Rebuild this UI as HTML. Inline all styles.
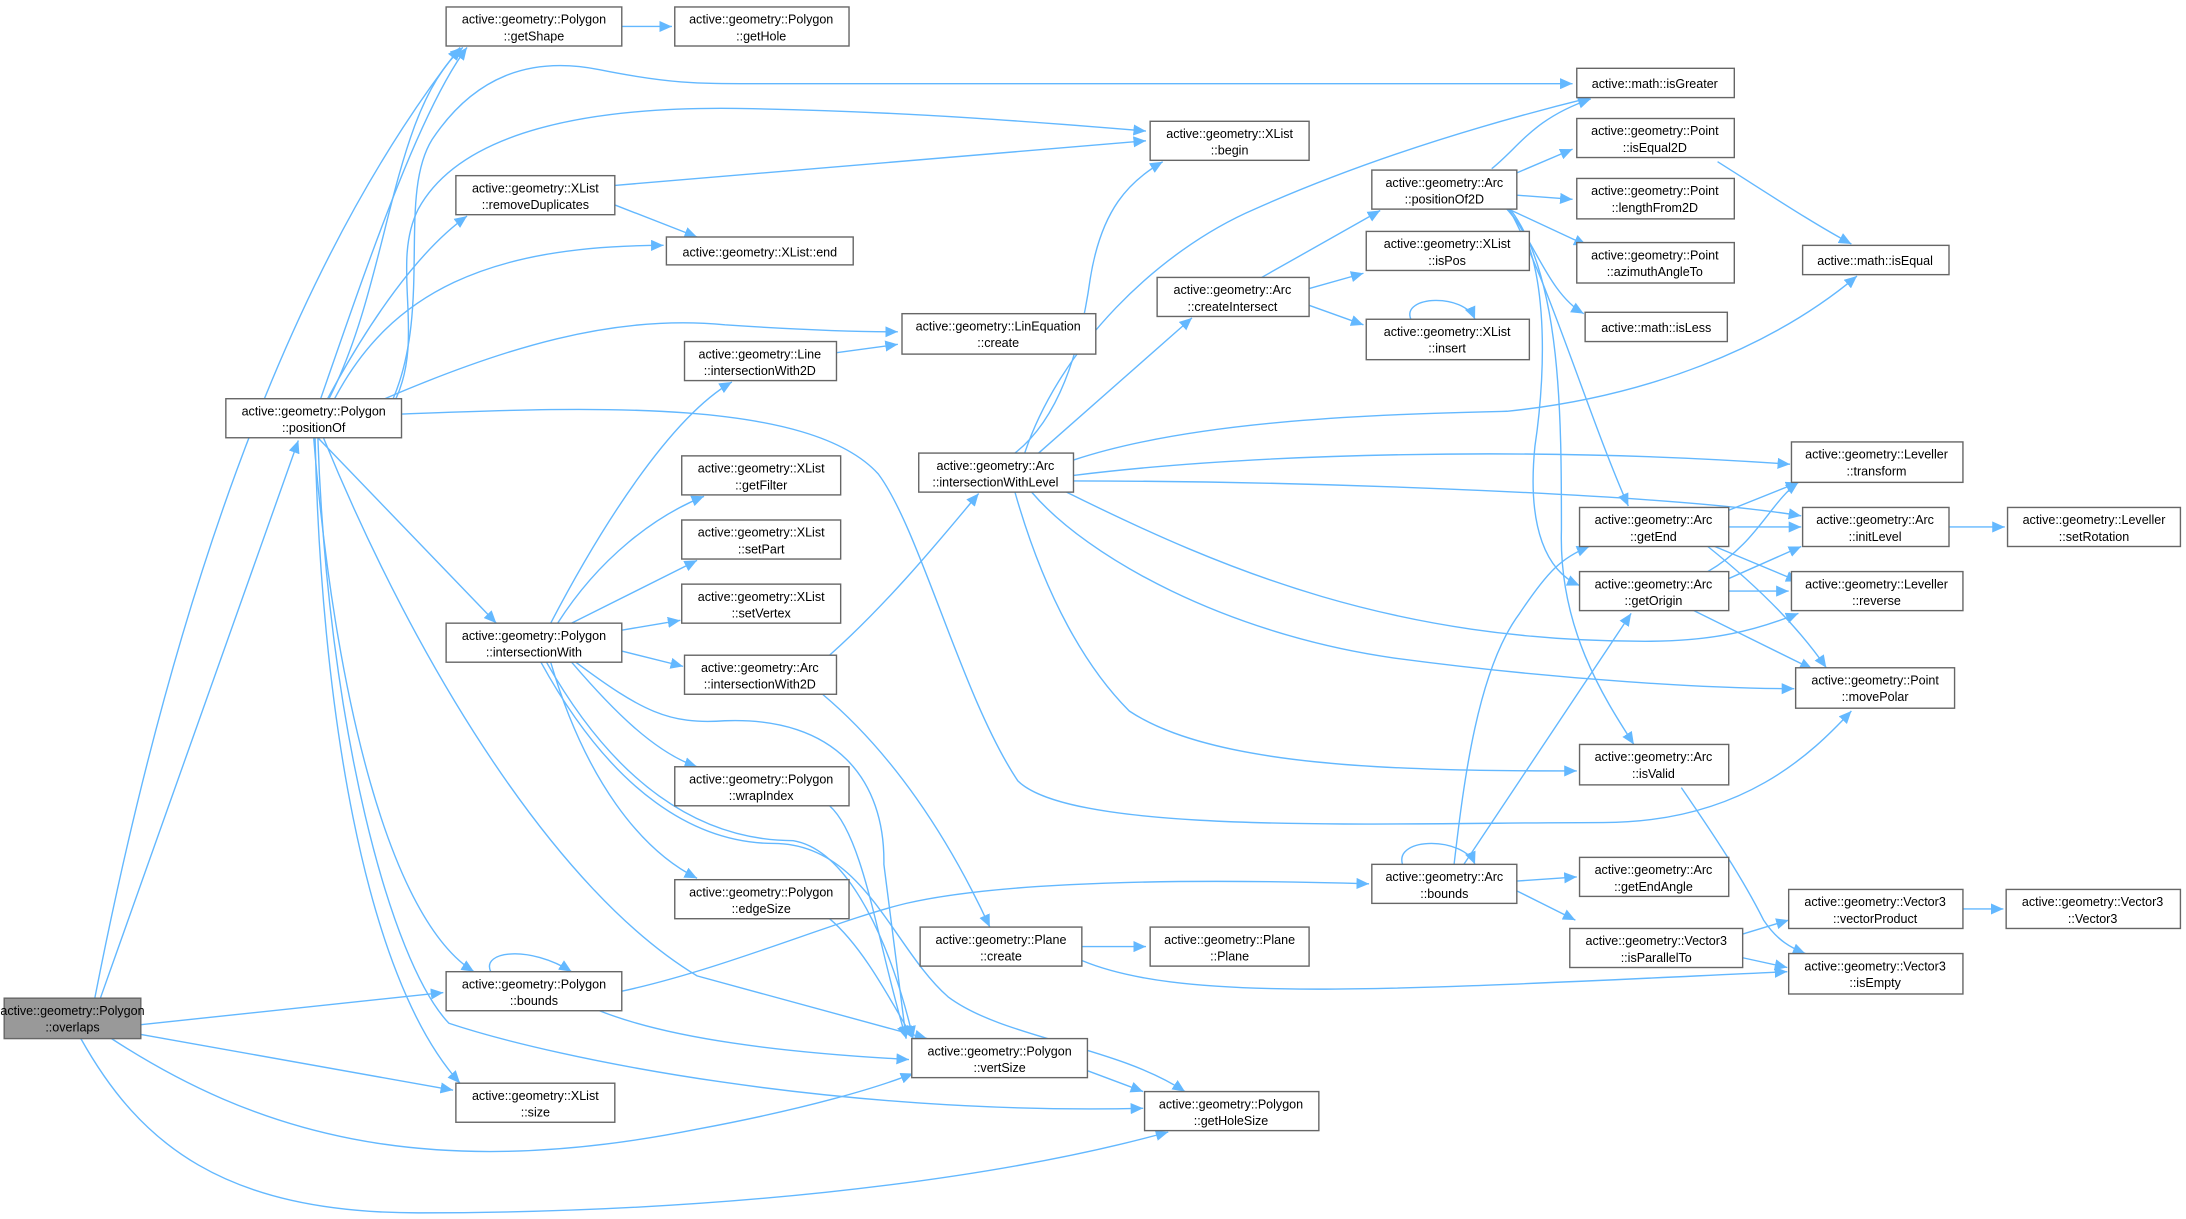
<!DOCTYPE html>
<html><head><meta charset="utf-8"><style>
html,body{margin:0;padding:0;background:#fff;}
svg{display:block;}
text{font-family:"Liberation Sans",Arial,sans-serif;font-size:9px;fill:#000;text-anchor:middle;}
.b{fill:#fff;stroke:#666;stroke-width:1;}
.e{fill:none;stroke:#63b8ff;stroke-width:1;marker-end:url(#a);}
</style></head><body>
<svg width="2186" height="1219" viewBox="0 0 1568 874.4" preserveAspectRatio="none" xmlns="http://www.w3.org/2000/svg">
<defs><marker id="a" markerUnits="userSpaceOnUse" markerWidth="10" markerHeight="8" refX="9" refY="4" orient="auto"><path d="M0,0 L9,4 L0,8 z" fill="#63b8ff"/></marker></defs>
<g>
<path class="e" d="M68,716 C120,450 200,200 330,34"/>
<path class="e" d="M72,716 L214,316"/>
<path class="e" d="M101,735 L318,712"/>
<path class="e" d="M101,742 L325,782"/>
<path class="e" d="M80,745 C180,810 300,850 500,810 C580,795 630,780 655,770"/>
<path class="e" d="M58,745 C100,820 160,870 300,870 C500,870 700,850 838,812"/>
<path class="e" d="M230,286 C260,200 300,80 335,34"/>
<path class="e" d="M236,286 C280,200 280,80 332,34"/>
<path class="e" d="M282,286 C310,220 285,140 310,100 C340,55 380,40 430,50 C480,60 500,60 540,60 L1128,60"/>
<path class="e" d="M284,286 C305,240 280,190 300,150 C330,95 420,75 540,78 C650,80 750,88 822,94"/>
<path class="e" d="M235,286 C265,230 300,180 335,155"/>
<path class="e" d="M240,286 C280,210 350,176 476,176"/>
<path class="e" d="M276,286 C360,250 440,225 520,233 C580,237 620,238 644,238"/>
<path class="e" d="M288,297 C420,292 580,285 630,340 C660,380 690,500 730,560 C770,600 1000,590 1150,590 C1250,590 1300,540 1328,510"/>
<path class="e" d="M228,314 L356,447"/>
<path class="e" d="M225,314 C240,500 280,660 340,697"/>
<path class="e" d="M226,314 C230,500 260,700 330,777"/>
<path class="e" d="M232,314 C300,480 400,640 500,700 L665,745"/>
<path class="e" d="M228,314 C235,520 280,690 322,734 C400,760 600,800 820,795"/>
<path class="e" d="M441,133 L822,101"/>
<path class="e" d="M441,147 L500,170"/>
<path class="e" d="M446,19 L482,19"/>
<path class="e" d="M600,253 L644,247"/>
<path class="e" d="M395,447 C430,380 480,300 525,274"/>
<path class="e" d="M400,447 C430,400 470,370 505,356"/>
<path class="e" d="M410,447 L500,402"/>
<path class="e" d="M446,452 L488,445"/>
<path class="e" d="M446,467 L490,478"/>
<path class="e" d="M410,475 C440,510 470,540 500,550"/>
<path class="e" d="M395,475 C420,560 460,610 500,630"/>
<path class="e" d="M413,475 C460,510 480,520 520,517 C600,514 635,560 634,620 L650,745"/>
<path class="e" d="M392,475 C440,560 500,603 569,603 C610,610 640,680 655,745"/>
<path class="e" d="M388,475 C440,570 500,605 555,605 C620,605 640,680 680,715 C720,745 800,750 850,783"/>
<path class="e" d="M595,470 C640,430 680,380 702,354"/>
<path class="e" d="M590,498 C640,540 680,600 710,665"/>
<path class="e" d="M595,578 C620,600 630,680 650,745"/>
<path class="e" d="M595,659 C620,680 640,720 655,745"/>
<path class="e" d="M352,697 C345,682 380,678 410,697"/>
<path class="e" d="M430,725 C480,745 560,755 652,760"/>
<path class="e" d="M446,711 C520,695 600,660 650,648 C720,632 850,630 982,634"/>
<path class="e" d="M780,768 L820,783"/>
<path class="e" d="M776,679 L822,679"/>
<path class="e" d="M776,689 C850,720 1000,710 1282,697"/>
<path class="e" d="M728,325 C760,300 775,250 782,200 C790,150 810,130 834,116"/>
<path class="e" d="M735,325 C760,250 830,180 900,150 C990,110 1080,85 1141,70"/>
<path class="e" d="M745,325 L855,228"/>
<path class="e" d="M770,330 C860,300 1000,297 1081,295 C1180,285 1270,250 1332,198"/>
<path class="e" d="M770,341 C900,325 1100,320 1284,333"/>
<path class="e" d="M770,345 C950,345 1200,355 1292,370"/>
<path class="e" d="M765,353 C880,410 1000,460 1180,460 C1230,460 1260,452 1290,440"/>
<path class="e" d="M740,353 C780,400 880,455 1000,472 C1120,488 1230,494 1287,494"/>
<path class="e" d="M728,353 C750,430 780,480 810,510 C870,550 1000,553 1131,553"/>
<path class="e" d="M905,199 L990,151"/>
<path class="e" d="M939,207 L978,196"/>
<path class="e" d="M939,219 L978,233"/>
<path class="e" d="M1012,229 C1005,212 1050,210 1058,229"/>
<path class="e" d="M1070,121 C1090,105 1100,85 1141,71"/>
<path class="e" d="M1088,124 L1128,107"/>
<path class="e" d="M1088,140 L1128,143"/>
<path class="e" d="M1080,149 L1138,176"/>
<path class="e" d="M1080,149 C1100,170 1110,210 1136,225"/>
<path class="e" d="M1082,149 C1110,200 1140,300 1168,363"/>
<path class="e" d="M1082,151 C1110,180 1110,260 1101,320 C1095,380 1110,410 1133,420"/>
<path class="e" d="M1084,151 C1120,200 1120,300 1120,380 C1118,450 1150,500 1172,534"/>
<path class="e" d="M1232,116 C1270,140 1300,160 1328,175"/>
<path class="e" d="M1240,366 L1290,346"/>
<path class="e" d="M1240,378 L1292,378"/>
<path class="e" d="M1230,392 L1290,417"/>
<path class="e" d="M1225,392 C1260,420 1290,450 1310,479"/>
<path class="e" d="M1225,410 C1260,390 1270,360 1290,346"/>
<path class="e" d="M1240,415 L1292,392"/>
<path class="e" d="M1240,424 L1283,424"/>
<path class="e" d="M1215,438 L1300,480"/>
<path class="e" d="M1398,378 L1438,378"/>
<path class="e" d="M1206,565 C1230,600 1250,630 1265,660 C1275,675 1285,680 1295,684"/>
<path class="e" d="M1006,620 C1000,600 1050,600 1058,620"/>
<path class="e" d="M1043,620 C1050,560 1060,480 1090,440 C1110,410 1120,400 1140,392"/>
<path class="e" d="M1050,620 L1170,440"/>
<path class="e" d="M1088,632 L1131,629"/>
<path class="e" d="M1088,639 L1130,660"/>
<path class="e" d="M1250,670 L1283,660"/>
<path class="e" d="M1250,687 L1282,694"/>
<path class="e" d="M1408,652 L1437,652"/>
</g>
<g>
<rect x="3" y="716" width="98" height="29" fill="#999" stroke="#666"/><text x="52" y="728">active::geometry::Polygon</text><text x="52" y="740">::overlaps</text>
<rect class="b" x="320" y="5" width="126" height="28"/><text x="383" y="17">active::geometry::Polygon</text><text x="383" y="29">::getShape</text>
<rect class="b" x="484" y="5" width="125" height="28"/><text x="546" y="17">active::geometry::Polygon</text><text x="546" y="29">::getHole</text>
<rect class="b" x="1131" y="49" width="113" height="21"/><text x="1187" y="63">active::math::isGreater</text>
<rect class="b" x="825" y="87" width="114" height="28"/><text x="882" y="99">active::geometry::XList</text><text x="882" y="111">::begin</text>
<rect class="b" x="327" y="126" width="114" height="28"/><text x="384" y="138">active::geometry::XList</text><text x="384" y="150">::removeDuplicates</text>
<rect class="b" x="478" y="170" width="134" height="20"/><text x="545" y="184">active::geometry::XList::end</text>
<rect class="b" x="647" y="225" width="139" height="29"/><text x="716" y="237">active::geometry::LinEquation</text><text x="716" y="249">::create</text>
<rect class="b" x="491" y="245" width="109" height="28"/><text x="545" y="257">active::geometry::Line</text><text x="545" y="269">::intersectionWith2D</text>
<rect class="b" x="162" y="286" width="126" height="28"/><text x="225" y="298">active::geometry::Polygon</text><text x="225" y="310">::positionOf</text>
<rect class="b" x="489" y="327" width="114" height="28"/><text x="546" y="339">active::geometry::XList</text><text x="546" y="351">::getFilter</text>
<rect class="b" x="489" y="373" width="114" height="28"/><text x="546" y="385">active::geometry::XList</text><text x="546" y="397">::setPart</text>
<rect class="b" x="489" y="419" width="114" height="28"/><text x="546" y="431">active::geometry::XList</text><text x="546" y="443">::setVertex</text>
<rect class="b" x="320" y="447" width="126" height="28"/><text x="383" y="459">active::geometry::Polygon</text><text x="383" y="471">::intersectionWith</text>
<rect class="b" x="491" y="470" width="109" height="28"/><text x="545" y="482">active::geometry::Arc</text><text x="545" y="494">::intersectionWith2D</text>
<rect class="b" x="484" y="550" width="125" height="28"/><text x="546" y="562">active::geometry::Polygon</text><text x="546" y="574">::wrapIndex</text>
<rect class="b" x="484" y="631" width="125" height="28"/><text x="546" y="643">active::geometry::Polygon</text><text x="546" y="655">::edgeSize</text>
<rect class="b" x="320" y="697" width="126" height="28"/><text x="383" y="709">active::geometry::Polygon</text><text x="383" y="721">::bounds</text>
<rect class="b" x="327" y="777" width="114" height="28"/><text x="384" y="789">active::geometry::XList</text><text x="384" y="801">::size</text>
<rect class="b" x="654" y="745" width="126" height="28"/><text x="717" y="757">active::geometry::Polygon</text><text x="717" y="769">::vertSize</text>
<rect class="b" x="821" y="783" width="125" height="28"/><text x="883" y="795">active::geometry::Polygon</text><text x="883" y="807">::getHoleSize</text>
<rect class="b" x="660" y="665" width="116" height="28"/><text x="718" y="677">active::geometry::Plane</text><text x="718" y="689">::create</text>
<rect class="b" x="825" y="665" width="114" height="28"/><text x="882" y="677">active::geometry::Plane</text><text x="882" y="689">::Plane</text>
<rect class="b" x="659" y="325" width="111" height="28"/><text x="714" y="337">active::geometry::Arc</text><text x="714" y="349">::intersectionWithLevel</text>
<rect class="b" x="830" y="199" width="109" height="28"/><text x="884" y="211">active::geometry::Arc</text><text x="884" y="223">::createIntersect</text>
<rect class="b" x="984" y="122" width="104" height="28"/><text x="1036" y="134">active::geometry::Arc</text><text x="1036" y="146">::positionOf2D</text>
<rect class="b" x="980" y="166" width="117" height="28"/><text x="1038" y="178">active::geometry::XList</text><text x="1038" y="190">::isPos</text>
<rect class="b" x="980" y="229" width="117" height="29"/><text x="1038" y="241">active::geometry::XList</text><text x="1038" y="253">::insert</text>
<rect class="b" x="1131" y="85" width="113" height="28"/><text x="1187" y="97">active::geometry::Point</text><text x="1187" y="109">::isEqual2D</text>
<rect class="b" x="1131" y="128" width="113" height="29"/><text x="1187" y="140">active::geometry::Point</text><text x="1187" y="152">::lengthFrom2D</text>
<rect class="b" x="1131" y="174" width="113" height="29"/><text x="1187" y="186">active::geometry::Point</text><text x="1187" y="198">::azimuthAngleTo</text>
<rect class="b" x="1137" y="224" width="102" height="21"/><text x="1188" y="238">active::math::isLess</text>
<rect class="b" x="1293" y="176" width="105" height="21"/><text x="1345" y="190">active::math::isEqual</text>
<rect class="b" x="1285" y="317" width="123" height="29"/><text x="1346" y="329">active::geometry::Leveller</text><text x="1346" y="341">::transform</text>
<rect class="b" x="1293" y="364" width="105" height="28"/><text x="1345" y="376">active::geometry::Arc</text><text x="1345" y="388">::initLevel</text>
<rect class="b" x="1440" y="364" width="124" height="28"/><text x="1502" y="376">active::geometry::Leveller</text><text x="1502" y="388">::setRotation</text>
<rect class="b" x="1133" y="364" width="107" height="28"/><text x="1186" y="376">active::geometry::Arc</text><text x="1186" y="388">::getEnd</text>
<rect class="b" x="1133" y="410" width="107" height="28"/><text x="1186" y="422">active::geometry::Arc</text><text x="1186" y="434">::getOrigin</text>
<rect class="b" x="1285" y="410" width="123" height="28"/><text x="1346" y="422">active::geometry::Leveller</text><text x="1346" y="434">::reverse</text>
<rect class="b" x="1288" y="479" width="114" height="29"/><text x="1345" y="491">active::geometry::Point</text><text x="1345" y="503">::movePolar</text>
<rect class="b" x="1133" y="534" width="107" height="29"/><text x="1186" y="546">active::geometry::Arc</text><text x="1186" y="558">::isValid</text>
<rect class="b" x="984" y="620" width="104" height="28"/><text x="1036" y="632">active::geometry::Arc</text><text x="1036" y="644">::bounds</text>
<rect class="b" x="1133" y="615" width="107" height="28"/><text x="1186" y="627">active::geometry::Arc</text><text x="1186" y="639">::getEndAngle</text>
<rect class="b" x="1126" y="666" width="124" height="28"/><text x="1188" y="678">active::geometry::Vector3</text><text x="1188" y="690">::isParallelTo</text>
<rect class="b" x="1283" y="638" width="125" height="28"/><text x="1345" y="650">active::geometry::Vector3</text><text x="1345" y="662">::vectorProduct</text>
<rect class="b" x="1439" y="638" width="125" height="28"/><text x="1501" y="650">active::geometry::Vector3</text><text x="1501" y="662">::Vector3</text>
<rect class="b" x="1283" y="684" width="125" height="29"/><text x="1345" y="696">active::geometry::Vector3</text><text x="1345" y="708">::isEmpty</text>
</g>
</svg>
</body></html>
